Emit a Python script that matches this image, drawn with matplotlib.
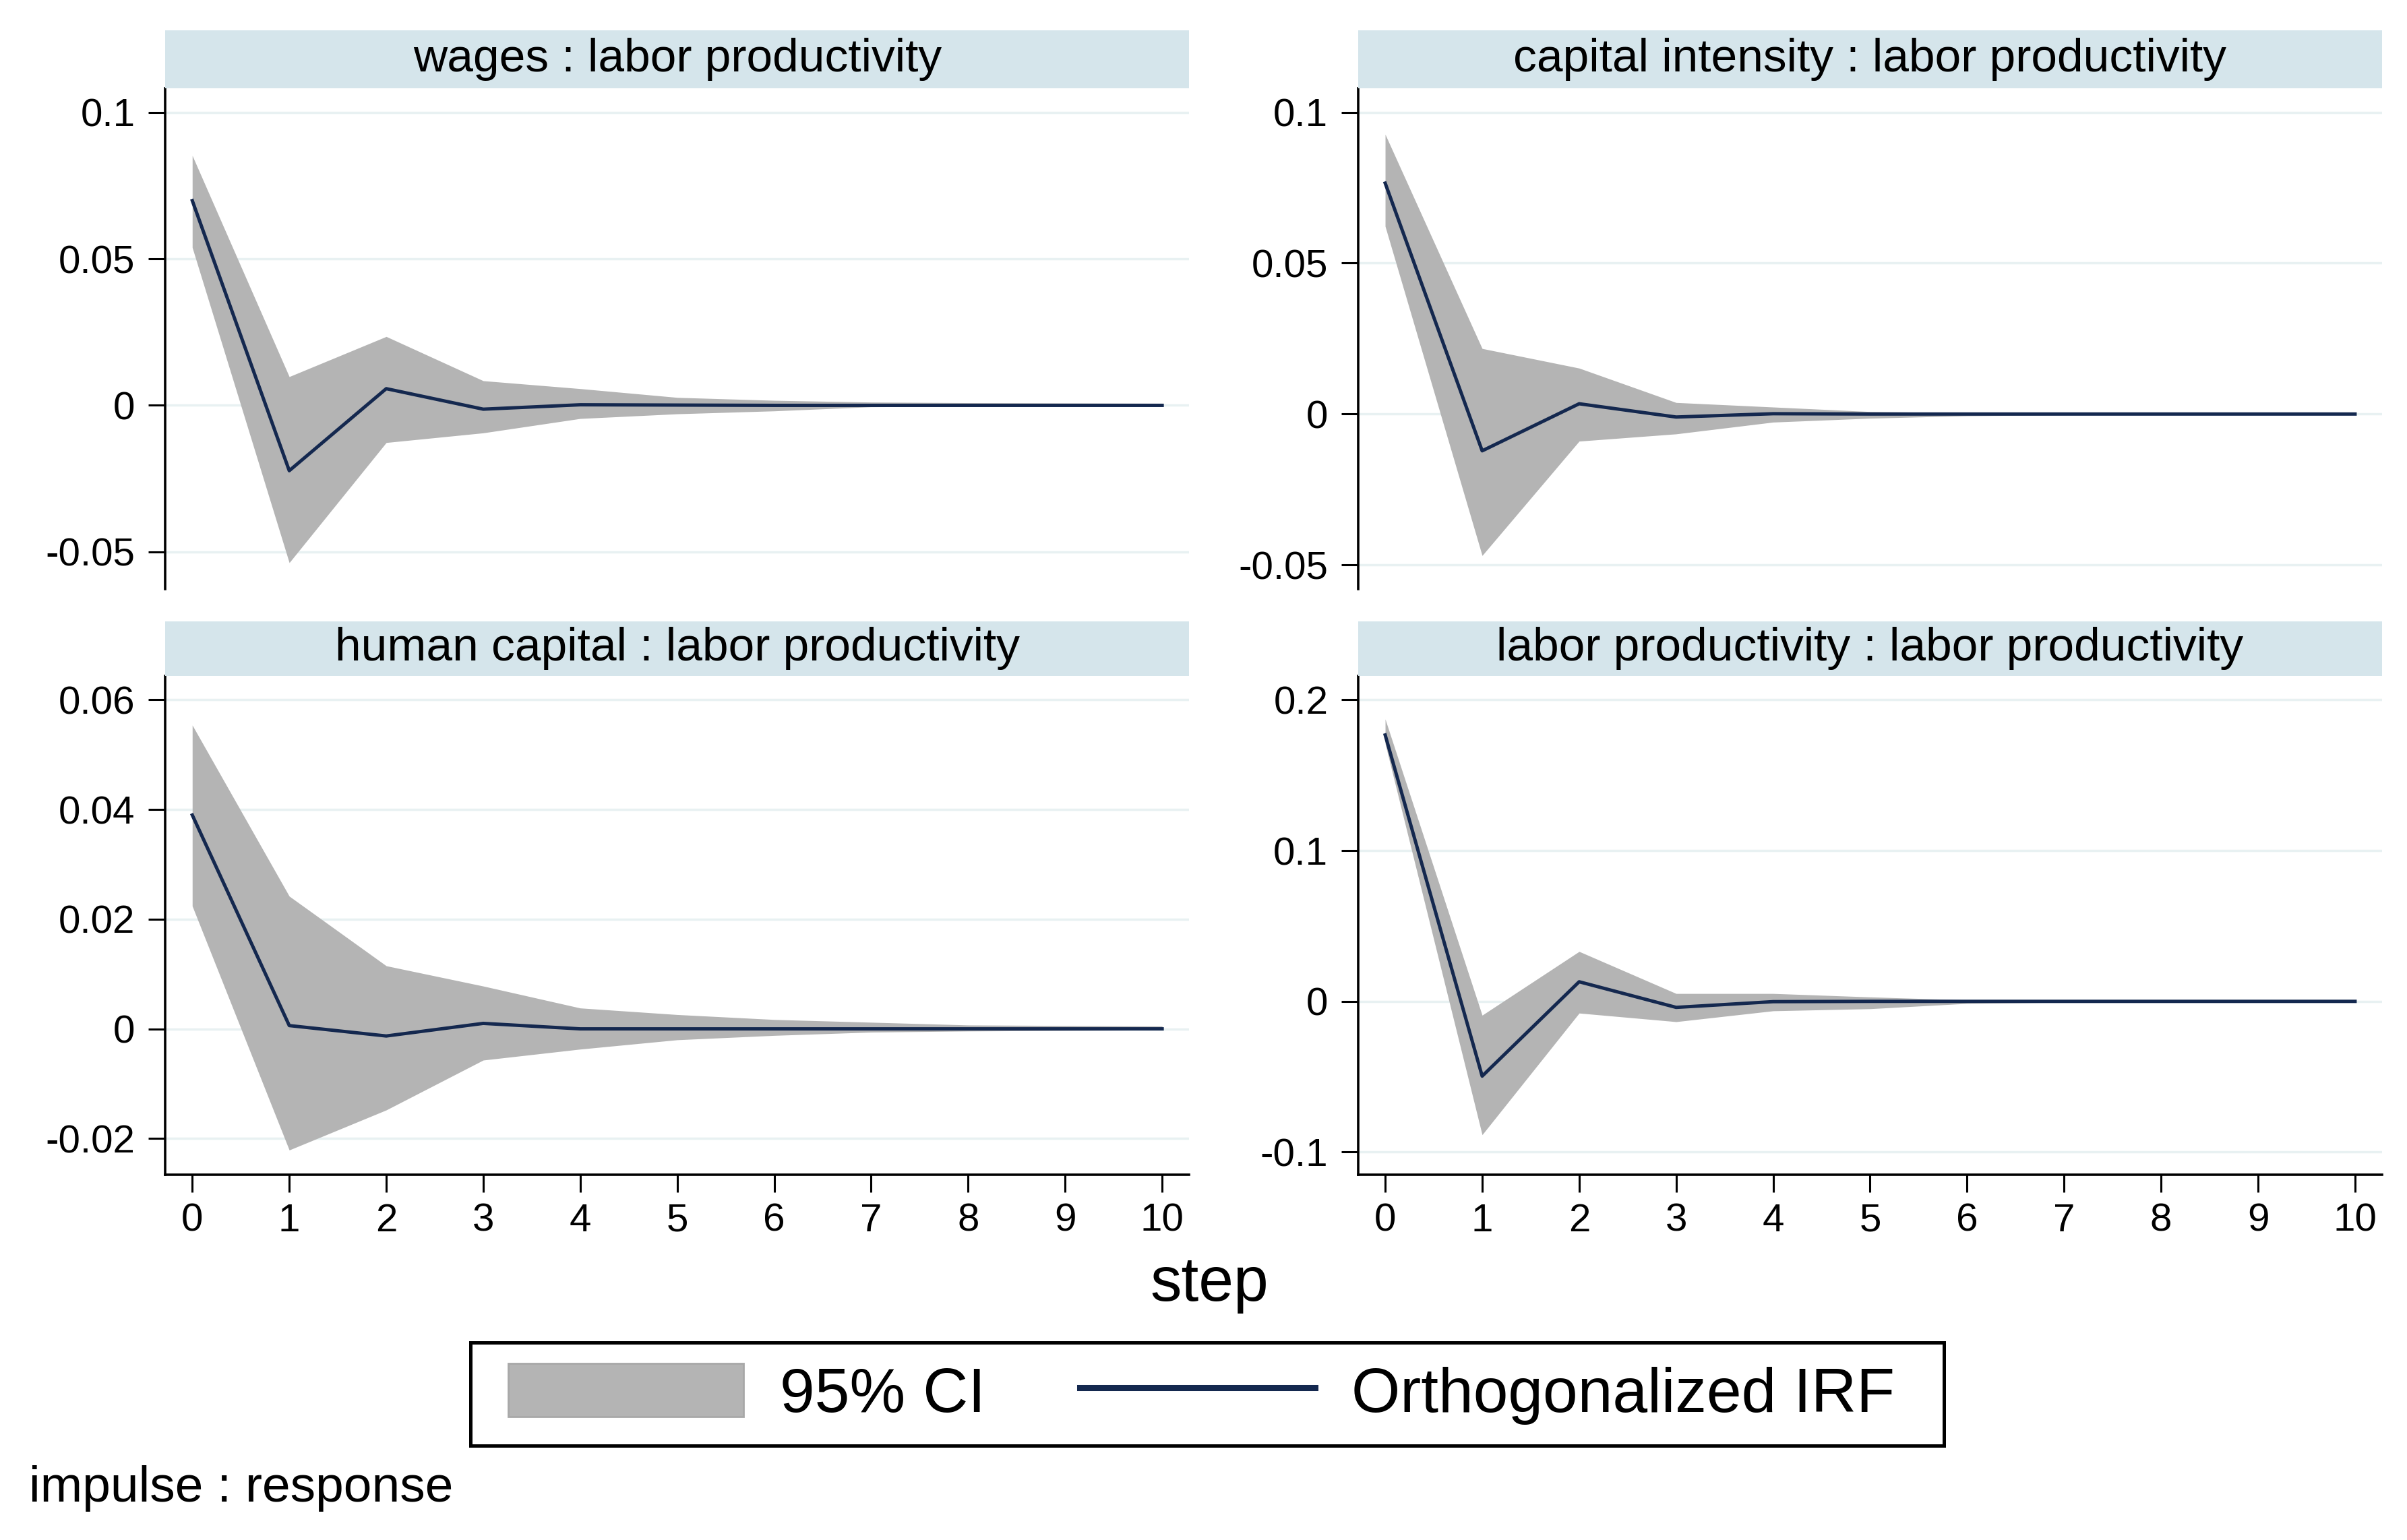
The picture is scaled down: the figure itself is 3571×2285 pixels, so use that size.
import numpy as np
import matplotlib.pyplot as plt
from matplotlib.patches import Patch, Rectangle
from matplotlib.lines import Line2D

plt.rcParams['font.family'] = ['Liberation Sans', 'DejaVu Sans']

# steps of the impulse response
steps = np.arange(11)
step_labels = ['0', '1', '2', '3', '4', '5', '6', '7', '8', '9', '10']

# panel titles (impulse : response)
titles = ['wages : labor productivity',
          'capital intensity : labor productivity',
          'human capital : labor productivity',
          'labor productivity : labor productivity']

# wages : labor productivity
wages_irf = [0.0699, -0.0223, 0.0057, -0.0013, 0.0002, 0.0001, 0, 0, 0, 0, 0]
wages_hi = [0.0853, 0.0098, 0.0235, 0.0084, 0.0057, 0.0027, 0.0017, 0.0011, 0.0009, 0.0008, 0.0007]
wages_lo = [0.0539, -0.0537, -0.0127, -0.0094, -0.0045, -0.0029, -0.0019, -0.0005, -0.0003, -0.0002, -0.0002]

# capital intensity : labor productivity
capint_irf = [0.0765, -0.0122, 0.0034, -0.0010, 0.0001, 0, 0, 0, 0, 0, 0]
capint_hi = [0.0927, 0.0217, 0.0152, 0.0038, 0.0023, 0.0008, 0.0004, 0.0002, 0.0001, 0.0001, 0.0001]
capint_lo = [0.0622, -0.0469, -0.0090, -0.0066, -0.0027, -0.0014, -0.0006, -0.0003, -0.0002, -0.0001, -0.0001]

# human capital : labor productivity
humcap_irf = [0.0390, 0.0006, -0.0013, 0.0010, 0.0000, 0, 0, 0, 0, 0, 0]
humcap_hi = [0.0554, 0.0242, 0.0115, 0.0078, 0.0038, 0.0026, 0.0017, 0.0012, 0.0007, 0.0006, 0.0005]
humcap_lo = [0.0224, -0.0221, -0.0148, -0.0057, -0.0037, -0.0020, -0.0012, -0.0006, -0.0004, -0.0003, -0.0002]

# labor productivity : labor productivity
labprod_irf = [0.1767, -0.0496, 0.0130, -0.0040, -0.0002, 0, 0, 0, 0, 0, 0]
labprod_hi = [0.1873, -0.0092, 0.0331, 0.0052, 0.0052, 0.0029, 0.0009, 0.0004, 0.0002, 0.0002, 0.0001]
labprod_lo = [0.1710, -0.0885, -0.0078, -0.0135, -0.0063, -0.0049, -0.0014, -0.0006, -0.0003, -0.0002, -0.0001]

irfs = [wages_irf, capint_irf, humcap_irf, labprod_irf]
his = [wages_hi, capint_hi, humcap_hi, labprod_hi]
los = [wages_lo, capint_lo, humcap_lo, labprod_lo]

# y axis ticks and labels per panel
yticks = [[-0.05, 0, 0.05, 0.1], [-0.05, 0, 0.05, 0.1],
          [-0.02, 0, 0.02, 0.04, 0.06], [-0.1, 0, 0.1, 0.2]]
ytick_labels = [['-0.05', '0', '0.05', '0.1'], ['-0.05', '0', '0.05', '0.1'],
                ['-0.02', '0', '0.02', '0.04', '0.06'], ['-0.1', '0', '0.1', '0.2']]
ylims = [(-0.0627, 0.1083), (-0.058, 0.108), (-0.0266, 0.0644), (-0.115, 0.216)]

band_col = '#b4b4b4'
line_col = '#14284f'
strip_col = '#d5e5eb'
grid_col = '#e8f1f2'

fig = plt.figure(figsize=(35.71, 22.85), dpi=100)

lefts = [0.0686, 0.5642, 0.0686, 0.5642]
width = 0.4255
bottoms = [0.6175, 0.6175, 0.2372, 0.2372]
heights = [0.3253, 0.3253, 0.324, 0.324]
strip_h = [0.0376, 0.0376, 0.0353, 0.0353]

for i in range(4):
    ax = fig.add_axes([lefts[i], bottoms[i], width, heights[i]])
    ax.fill_between(steps, los[i], his[i], color=band_col, lw=0, zorder=2)
    ax.plot(steps, irfs[i], color=line_col, lw=3.6, zorder=3)
    ax.set_xlim(-0.28, 10.28)
    ax.set_ylim(*ylims[i])
    ax.set_yticks(yticks[i])
    ax.set_yticklabels(ytick_labels[i])
    for yv in yticks[i]:
        ax.axhline(yv, color=grid_col, lw=2.5, zorder=1)
    for s in ['top', 'right']:
        ax.spines[s].set_visible(False)
    ax.spines['left'].set_linewidth(2.6)
    ax.tick_params(axis='y', length=18, width=2.2, labelsize=42, pad=14)
    if i < 2:
        ax.spines['bottom'].set_visible(False)
        ax.set_xticks([])
    else:
        ax.spines['bottom'].set_linewidth(2.6)
        ax.set_xticks(steps)
        ax.set_xticklabels(step_labels)
        ax.tick_params(axis='x', length=19, width=2.2, labelsize=42, pad=11)

    # strip with the panel title
    sax = fig.add_axes([lefts[i], bottoms[i] + heights[i], width, strip_h[i]])
    sax.set_facecolor(strip_col)
    sax.set_xticks([])
    sax.set_yticks([])
    for s in sax.spines.values():
        s.set_visible(False)
    sax.text(0.5, 0.5, titles[i], ha='center', va='center', fontsize=50,
             transform=sax.transAxes)

fig.text(0.5025, 0.1554, 'step', ha='center', va='baseline', fontsize=67)
fig.text(0.012, 0.025, 'impulse : response', ha='left', va='baseline', fontsize=54)

handles = [Patch(facecolor=band_col, edgecolor='#a8a8a8', linewidth=2),
           Line2D([], [], color=line_col, lw=6.5)]
leg = fig.legend(handles, ['95% CI', 'Orthogonalized IRF'], loc='center',
                 bbox_to_anchor=(0.4992, 0.0947), ncol=2, fontsize=67,
                 handlelength=3.75, handleheight=0.92, handletextpad=0.58,
                 columnspacing=1.5, borderpad=0.38, frameon=False)

# legend box
fig.patches.append(Rectangle((0.1955, 0.0611), 0.6122, 0.0672, transform=fig.transFigure,
                             fill=False, edgecolor='black', lw=3.6))

plt.savefig('out.png', dpi=100)
